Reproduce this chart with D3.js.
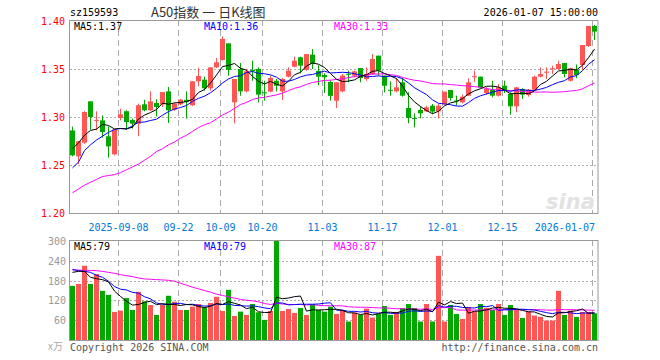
<!DOCTYPE html>
<html>
<head>
<meta charset="utf-8">
<script src="https://cdn.jsdelivr.net/npm/d3@7"></script>
<style>
  body { margin: 0; background: #fff; }
  svg  { display: block; }
  text { font-family: "DejaVu Sans Mono", "Liberation Mono", monospace; font-size: 10px; }
</style>
</head>
<body>
<svg id="chart" width="660" height="360"></svg>
<script>
'use strict';

// ── Data ────────────────────────────────────────────────────
const dates = [
  '2025-08-27','2025-08-28','2025-08-29',
  '2025-09-01','2025-09-02','2025-09-03','2025-09-04','2025-09-05',
  '2025-09-08','2025-09-09','2025-09-10','2025-09-11','2025-09-12',
  '2025-09-15','2025-09-16','2025-09-17','2025-09-18','2025-09-19',
  '2025-09-22','2025-09-23','2025-09-24','2025-09-25','2025-09-26',
  '2025-09-29','2025-09-30',
  '2025-10-09','2025-10-10',
  '2025-10-13','2025-10-14','2025-10-15','2025-10-16','2025-10-17',
  '2025-10-20','2025-10-21','2025-10-22','2025-10-23','2025-10-24',
  '2025-10-27','2025-10-28','2025-10-29','2025-10-30','2025-10-31',
  '2025-11-03','2025-11-04','2025-11-05','2025-11-06','2025-11-07',
  '2025-11-10','2025-11-11','2025-11-12','2025-11-13','2025-11-14',
  '2025-11-17','2025-11-18','2025-11-19','2025-11-20','2025-11-21',
  '2025-11-24','2025-11-25','2025-11-26','2025-11-27','2025-11-28',
  '2025-12-01','2025-12-02','2025-12-03','2025-12-04','2025-12-05',
  '2025-12-08','2025-12-09','2025-12-10','2025-12-11','2025-12-12',
  '2025-12-15','2025-12-16','2025-12-17','2025-12-18','2025-12-19',
  '2025-12-22','2025-12-23','2025-12-24','2025-12-25','2025-12-26',
  '2025-12-29','2025-12-30','2025-12-31',
  '2026-01-05','2026-01-06','2026-01-07'
];

const opens = [
  1.286, 1.259, 1.2733, 1.3163, 1.296, 1.2965, 1.2799, 1.2611, 1.299, 1.306,
  1.297, 1.293, 1.3132, 1.307, 1.3146, 1.3132, 1.3267, 1.3076, 1.3132, 1.318,
  1.3122, 1.3372, 1.3389, 1.3299, 1.3517, 1.3594, 1.3767, 1.3153, 1.35, 1.3267,
  1.349, 1.35, 1.3257, 1.3264, 1.3378, 1.3267, 1.342, 1.3524, 1.3622, 1.349,
  1.365, 1.348, 1.3437, 1.3365, 1.317, 1.3267, 1.345, 1.343, 1.351, 1.3396,
  1.3448, 1.3639, 1.3431, 1.3283, 1.3267, 1.3361, 1.3094, 1.299, 1.3073, 1.3059,
  1.3118, 1.3059, 1.3135, 1.3281, 1.3172, 1.3153, 1.3222, 1.342, 1.342, 1.325,
  1.3285, 1.3222, 1.3326, 1.324, 1.3111, 1.3292, 1.3229, 1.3285, 1.342, 1.3469,
  1.350, 1.35, 1.3562, 1.3378, 1.349, 1.3542, 1.374, 1.3948
];
const highs = [
  1.290, 1.275, 1.306, 1.3163, 1.306, 1.3017, 1.2903, 1.2868, 1.3087, 1.307,
  1.2983, 1.314, 1.318, 1.3267, 1.3184, 1.326, 1.3313, 1.3146, 1.319, 1.3267,
  1.3372, 1.3514, 1.342, 1.3517, 1.3615, 1.384, 1.3767, 1.3396, 1.3562, 1.35,
  1.3587, 1.3517, 1.3378, 1.343, 1.3396, 1.3406, 1.3517, 1.3628, 1.3628, 1.3656,
  1.3708, 1.354, 1.3455, 1.338, 1.3361, 1.3448, 1.3483, 1.3483, 1.351, 1.3517,
  1.3656, 1.3639, 1.3431, 1.3372, 1.3406, 1.3406, 1.3257, 1.3038, 1.3108, 1.3118,
  1.3135, 1.3135, 1.3264, 1.3281, 1.3222, 1.3233, 1.3403, 1.3483, 1.342, 1.3309,
  1.3378, 1.3344, 1.3378, 1.3257, 1.3309, 1.3299, 1.3292, 1.3431, 1.3517, 1.3517,
  1.3535, 1.3587, 1.3562, 1.3514, 1.3547, 1.375, 1.395, 1.3958
];
const lows = [
  1.259, 1.251, 1.272, 1.2868, 1.286, 1.2785, 1.2576, 1.260, 1.2965, 1.2868,
  1.288, 1.280, 1.306, 1.3063, 1.3007, 1.3104, 1.2938, 1.3063, 1.3122, 1.2983,
  1.3115, 1.332, 1.3274, 1.3274, 1.351, 1.3587, 1.343, 1.2934, 1.3222, 1.3257,
  1.3378, 1.3153, 1.317, 1.3257, 1.3267, 1.3177, 1.3413, 1.3517, 1.3455, 1.3483,
  1.35, 1.333, 1.325, 1.317, 1.3094, 1.3257, 1.3361, 1.3413, 1.3361, 1.3378,
  1.3441, 1.3431, 1.3257, 1.3222, 1.3257, 1.3212, 1.2934, 1.2892, 1.2986, 1.3052,
  1.3031, 1.2986, 1.3128, 1.317, 1.3118, 1.3142, 1.3222, 1.3368, 1.3299, 1.3229,
  1.3205, 1.3212, 1.325, 1.3024, 1.3049, 1.3188, 1.3212, 1.3274, 1.3413, 1.3396,
  1.3448, 1.3493, 1.3413, 1.337, 1.3403, 1.349, 1.373, 1.3802
];
const closes = [
  1.260, 1.2747, 1.3052, 1.300, 1.297, 1.2844, 1.2694, 1.2868, 1.3028, 1.2948,
  1.293, 1.3122, 1.307, 1.3163, 1.3104, 1.326, 1.307, 1.3139, 1.318, 1.3156,
  1.3372, 1.3427, 1.3299, 1.3517, 1.357, 1.3813, 1.349, 1.3396, 1.3267, 1.3476,
  1.3487, 1.3233, 1.3253, 1.3406, 1.3326, 1.3396, 1.3483, 1.3587, 1.3535, 1.3656,
  1.3552, 1.342, 1.3413, 1.322, 1.3361, 1.3431, 1.3445, 1.3476, 1.3406, 1.3448,
  1.3604, 1.3483, 1.3326, 1.3278, 1.3309, 1.3222, 1.299, 1.2986, 1.3038, 1.3101,
  1.3056, 1.3118, 1.3264, 1.3198, 1.3167, 1.3212, 1.3361, 1.3425, 1.3309, 1.3292,
  1.3222, 1.3309, 1.3274, 1.3111, 1.3309, 1.3233, 1.3285, 1.342, 1.3448, 1.3472,
  1.3507, 1.3552, 1.3448, 1.3507, 1.3438, 1.375, 1.3948, 1.3889
];
// volume, 万
const volumes = [
  164, 170, 225, 170, 200, 149, 137, 85, 89, 127,
  91, 146, 117, 106, 76, 106, 134, 116, 91, 91,
  101, 109, 99, 112, 131, 88, 152, 73, 86, 76,
  109, 84, 61, 88, 305, 88, 94, 82, 97, 76,
  109, 91, 86, 101, 79, 91, 56, 83, 76, 95,
  68, 79, 103, 76, 85, 97, 109, 97, 56, 109,
  56, 255, 56, 106, 79, 64, 100, 87, 109, 97,
  91, 109, 76, 106, 91, 67, 87, 74, 70, 59,
  59, 149, 76, 89, 70, 85, 85, 81
];

// moving-average values at the left edge (they depend on days before the window)
const priceMa5Head  = [1.267, 1.273, 1.281, 1.286];
const priceMa10Head = [1.247, 1.253, 1.265, 1.271, 1.276, 1.280, 1.284, 1.287, 1.288];
const priceMa30Head = [
  1.221, 1.225, 1.229, 1.232, 1.235, 1.238, 1.239, 1.240, 1.242, 1.245,
  1.248, 1.251, 1.255, 1.259, 1.264, 1.267, 1.271, 1.274, 1.278, 1.281,
  1.285, 1.289, 1.292, 1.294, 1.298, 1.302, 1.305, 1.309, 1.313
];
const volMa5Head  = [205, 208, 208, 190];
const volMa10Head = [214, 210, 208, 205, 196, 190, 178, 162, 154];
const volMa30Head = [
  212, 212, 211, 211, 210, 208, 205, 202, 198, 195,
  192, 188, 185, 184, 183, 182, 181, 178, 172, 166,
  160, 155, 150, 145, 139, 135, 131, 127, 123
];

const tickDates  = ['2025-09-08','2025-09-22','2025-10-09','2025-10-20','2025-11-03',
                    '2025-11-17','2025-12-01','2025-12-15','2026-01-07'];
const tickLabels = ['2025-09-08','09-22','10-09','10-20','11-03',
                    '11-17','12-01','12-15','2026-01-07'];
const priceTicks = [1.20, 1.25, 1.30, 1.35, 1.40];
const volTicks   = [60, 120, 180, 240, 300];

// ── Style ───────────────────────────────────────────────────
const UP   = '#ff5555';
const DOWN = '#00a800';
const MA_COLOR = { ma5: '#000000', ma10: '#0000ff', ma30: '#ff00ff' };
const GRID = '#aaaaaa';
const BORDER = '#999999';

const L = 70, R = 597;
const PRICE = { top: 20, bottom: 213 };
const VOL   = { top: 240, bottom: 340 };

// ── Helpers ─────────────────────────────────────────────────
function movingAvg(values, n, head) {
  return values.map((v, i) => {
    if (i < n - 1) return head[i];
    let s = 0;
    for (let k = i - n + 1; k <= i; k++) s += values[k];
    return s / n;
  });
}

const bars = dates.map((d, i) => ({
  date: d, open: opens[i], high: highs[i], low: lows[i], close: closes[i],
  vol: volumes[i], up: closes[i] >= opens[i]
}));

const svg = d3.select('#chart');

const x = d3.scaleBand().domain(dates).range([L, R]).paddingInner(1 / 6).paddingOuter(0);
const bw = x.bandwidth();
const cx = d => x(d) + bw / 2;

const y  = d3.scaleLinear().domain([1.20, 1.40]).range([PRICE.bottom, PRICE.top + 1]);
const yv = d3.scaleLinear().domain([0, 300]).range([VOL.bottom, VOL.top + 1]);

svg.append('defs').call(defs => {
  defs.append('clipPath').attr('id', 'clip-price')
    .append('rect').attr('x', L).attr('y', PRICE.top).attr('width', R - L + 1).attr('height', PRICE.bottom - PRICE.top);
  defs.append('clipPath').attr('id', 'clip-vol')
    .append('rect').attr('x', L).attr('y', VOL.top).attr('width', R - L + 1).attr('height', VOL.bottom - VOL.top);
});

// ── Header ──────────────────────────────────────────────────
svg.append('text').attr('x', 70).attr('y', 16).attr('fill', '#000').text('sz159593');
svg.append('text').attr('x', 151).attr('y', 17)
  .style('font-family', '"Noto Sans CJK SC", sans-serif').style('font-size', '13px')
  .attr('fill', '#333').text('A50指数 一 日K线图');
svg.append('text').attr('x', 598).attr('y', 16).attr('text-anchor', 'end')
  .attr('fill', '#000').text('2026-01-07 15:00:00');

// ── Grids ───────────────────────────────────────────────────
function hGrid(scale, ticks, panel) {
  svg.append('g').selectAll('line').data(ticks).join('line')
    .attr('x1', L).attr('x2', R + 1)
    .attr('y1', d => Math.round(scale(d)) + 0.5).attr('y2', d => Math.round(scale(d)) + 0.5)
    .attr('stroke', GRID).attr('stroke-dasharray', '2,2');
}
function vGrid(panel) {
  svg.append('g').selectAll('line').data(tickDates).join('line')
    .attr('x1', d => x(d) + 0.5).attr('x2', d => x(d) + 0.5)
    .attr('y1', panel.top).attr('y2', panel.bottom)
    .attr('stroke', GRID).attr('stroke-dasharray', '6,4');
}
hGrid(y, [1.25, 1.30, 1.35]);
hGrid(yv, [60, 120, 180, 240]);
vGrid(PRICE);
vGrid(VOL);

// sina watermark
svg.append('text').attr('x', 546).attr('y', 209)
  .style('font-family', '"DejaVu Sans", sans-serif').style('font-size', '21px')
  .style('font-style', 'italic').style('font-weight', 'bold')
  .attr('fill', '#e2e2e2').text('sina');

// ── Candles ─────────────────────────────────────────────────
const candleG = svg.append('g').attr('clip-path', 'url(#clip-price)');
const candle = candleG.selectAll('g').data(bars).join('g')
  .attr('fill', d => d.up ? UP : DOWN);
candle.append('rect')
  .attr('x', d => x(d.date) + Math.floor(bw / 2)).attr('width', 1)
  .attr('y', d => y(d.high)).attr('height', d => Math.max(1, y(d.low) - y(d.high)));
candle.append('rect')
  .attr('x', d => x(d.date)).attr('width', bw)
  .attr('y', d => y(Math.max(d.open, d.close)))
  .attr('height', d => Math.max(1, Math.abs(y(d.open) - y(d.close))));

// ── Price MAs ───────────────────────────────────────────────
const pMa = {
  ma30: movingAvg(closes, 30, priceMa30Head),
  ma10: movingAvg(closes, 10, priceMa10Head),
  ma5:  movingAvg(closes, 5,  priceMa5Head)
};
const pLine = d3.line().x((d, i) => cx(dates[i])).y(d => y(d));
Object.entries(pMa).forEach(([k, vals]) => {
  candleG.append('path').attr('d', pLine(vals))
    .attr('fill', 'none').attr('stroke', MA_COLOR[k]).attr('stroke-width', 1);
});

// ── Volume ──────────────────────────────────────────────────
const volG = svg.append('g').attr('clip-path', 'url(#clip-vol)');
volG.selectAll('rect').data(bars).join('rect')
  .attr('x', d => x(d.date)).attr('width', bw)
  .attr('y', d => yv(d.vol)).attr('height', d => yv(0) - yv(d.vol))
  .attr('fill', d => d.up ? UP : DOWN);

const vMa = {
  ma30: movingAvg(volumes, 30, volMa30Head),
  ma10: movingAvg(volumes, 10, volMa10Head),
  ma5:  movingAvg(volumes, 5,  volMa5Head)
};
const vLine = d3.line().x((d, i) => cx(dates[i])).y(d => yv(d));
Object.entries(vMa).forEach(([k, vals]) => {
  volG.append('path').attr('d', vLine(vals))
    .attr('fill', 'none').attr('stroke', MA_COLOR[k]).attr('stroke-width', 1);
});

// ── Borders ─────────────────────────────────────────────────
[PRICE, VOL].forEach(p => {
  svg.append('rect').attr('x', L - 0.5).attr('y', p.top + 0.5)
    .attr('width', R - L + 1.5).attr('height', p.bottom - p.top)
    .attr('fill', 'none').attr('stroke', BORDER);
});

// ── Axis labels ─────────────────────────────────────────────
svg.append('g').selectAll('text').data(priceTicks).join('text')
  .attr('x', 65).attr('y', d => y(d) + 4).attr('text-anchor', 'end')
  .attr('fill', '#ff0000').text(d => d.toFixed(2));

svg.append('g').selectAll('text').data(volTicks).join('text')
  .attr('x', 66).attr('y', d => yv(d) + 4).attr('text-anchor', 'end')
  .attr('fill', '#999').text(d => d);
svg.append('text').attr('x', 48).attr('y', 350)
  .style('font-family', '"Noto Sans CJK SC", sans-serif').style('font-size', '10px')
  .attr('fill', '#aaa').text('x万');

svg.append('g').selectAll('text').data(tickDates).join('text')
  .attr('x', (d, i) => i === tickDates.length - 1 ? x(d) + 3 : x(d) + 0.5)
  .attr('y', 231)
  .attr('text-anchor', (d, i) => i === tickDates.length - 1 ? 'end' : 'middle')
  .attr('fill', '#0078d7').text((d, i) => tickLabels[i]);

// ── MA legends ──────────────────────────────────────────────
function legend(yPos, items) {
  items.forEach(([xPos, color, txt]) => {
    svg.append('text').attr('x', xPos).attr('y', yPos).attr('fill', color).text(txt);
  });
}
legend(30, [[74, MA_COLOR.ma5, 'MA5:1.37'], [204, MA_COLOR.ma10, 'MA10:1.36'], [334, MA_COLOR.ma30, 'MA30:1.33']]);
legend(250, [[74, MA_COLOR.ma5, 'MA5:79'], [204, MA_COLOR.ma10, 'MA10:79'], [334, MA_COLOR.ma30, 'MA30:87']]);

// ── Footer ──────────────────────────────────────────────────
svg.append('text').attr('x', 70).attr('y', 351).attr('fill', '#555').text('Copyright 2026 SINA.COM');
svg.append('text').attr('x', 598).attr('y', 351).attr('text-anchor', 'end')
  .attr('fill', '#555').text('http://finance.sina.com.cn');
</script>
</body>
</html>
